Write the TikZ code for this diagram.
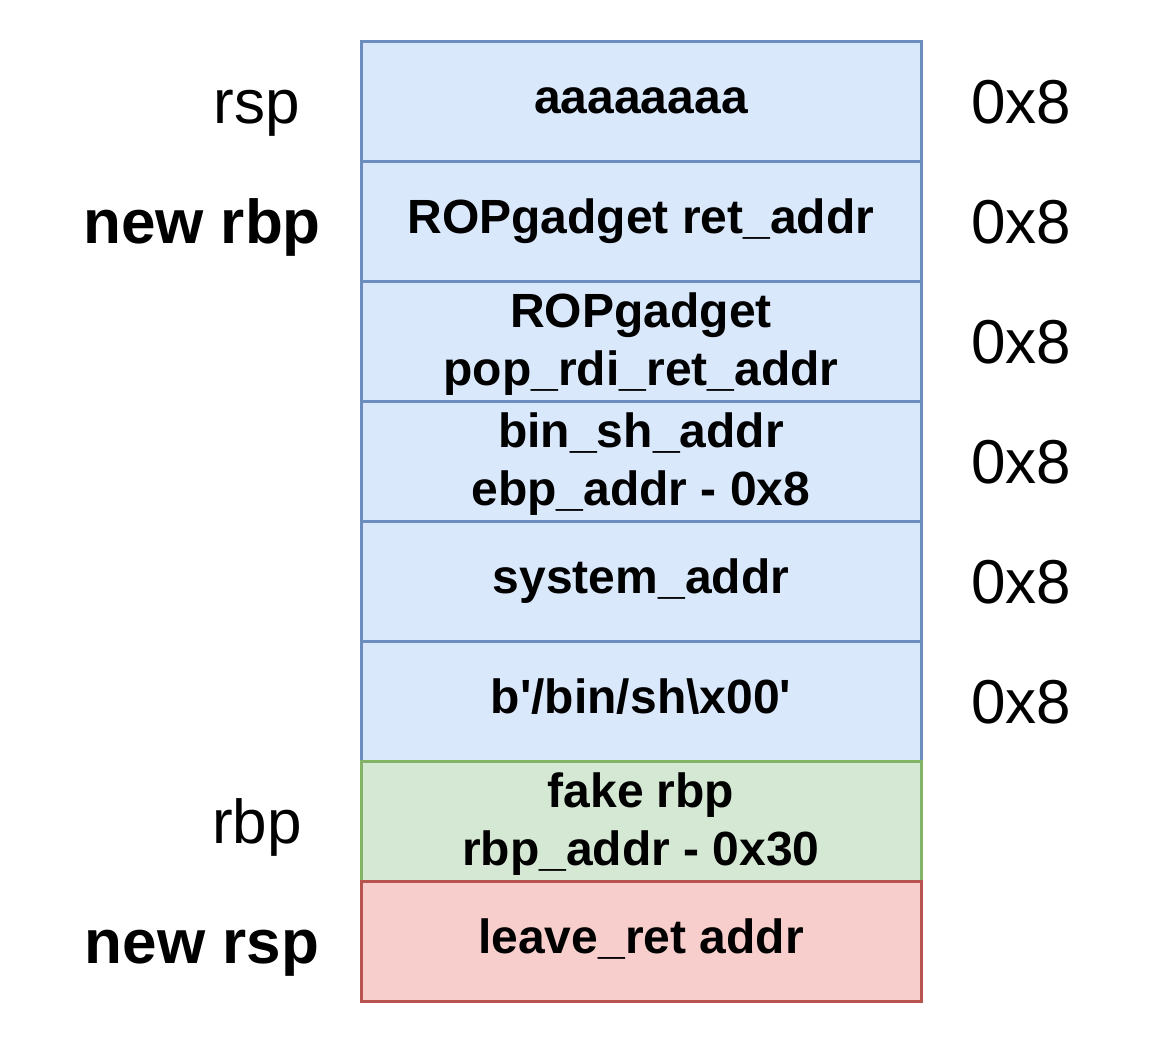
\documentclass[tikz,border=0pt]{standalone}
\usepackage{fontspec}
\setmainfont{Liberation Sans}[Ligatures=TeXOff]
\definecolor{bfill}{HTML}{DAE8FC}\definecolor{bline}{HTML}{6C8EBF}
\definecolor{gfill}{HTML}{D5E8D4}\definecolor{gline}{HTML}{82B366}
\definecolor{rfill}{HTML}{F8CECC}\definecolor{rline}{HTML}{B85450}
\begin{document}
\begin{tikzpicture}[x=1pt,y=-1pt,
  cell/.style={draw, line width=3pt, minimum width=560pt, minimum height=120pt, inner sep=0pt},
  bcell/.style={cell, fill=bfill, draw=bline},
  gcell/.style={cell, fill=gfill, draw=gline},
  rcell/.style={cell, fill=rfill, draw=rline},
  ctext/.style={anchor=base, inner sep=0pt, font=\fontsize{48}{58}\selectfont\bfseries},
  lab/.style={anchor=base, font=\fontsize{62}{74}\selectfont, inner sep=0pt},
  blab/.style={lab, font=\fontsize{62}{74}\selectfont\bfseries}]
\useasboundingbox (0,0) rectangle (1160,1044);
\node[bcell] (c1) at (641,101) {};
\node[bcell] (c2) at (641,221) {};
\node[bcell] (c3) at (641,341) {};
\node[bcell] (c4) at (641,461) {};
\node[bcell] (c5) at (641,581) {};
\node[bcell] (c6) at (641,701) {};
\node[gcell] (c7) at (641,821) {};
\node[rcell] (c8) at (641,941) {};
\node[ctext] (t1) at ([yshift=-12pt]c1.center) {aaaaaaaa};
\node[ctext] (t2) at ([yshift=-12pt]c2.center) {ROPgadget ret\_addr};
\node[ctext] (t3a) at ([yshift=13.5pt]c3.center) {ROPgadget};
\node[ctext] (t3b) at ([yshift=-44.5pt]c3.center) {pop\_rdi\_ret\_addr};
\node[ctext] (t4a) at ([yshift=13.5pt]c4.center) {bin\_sh\_addr};
\node[ctext] (t4b) at ([yshift=-44.5pt]c4.center) {ebp\_addr - 0x8};
\node[ctext] (t5) at ([yshift=-12pt]c5.center) {system\_addr};
\node[ctext] (t6) at ([yshift=-12pt]c6.center) {b'/bin/sh\textbackslash x00'};
\node[ctext] (t7a) at ([yshift=13.5pt]c7.center) {fake rbp};
\node[ctext] (t7b) at ([yshift=-44.5pt]c7.center) {rbp\_addr - 0x30};
\node[ctext] (t8) at ([yshift=-12pt]c8.center) {leave\_ret addr};
\node[lab] (l1) at (257,123) {rsp};
\node[blab] (l2) at (202,243) {new rbp};
\node[lab] (l7) at (257,843) {rbp};
\node[blab] (l8) at (202,963) {new rsp};
\foreach \i/\y in {1/123,2/243,3/363,4/483,5/603,6/723}
  \node[lab] (s\i) at (1021,\y) {0x8};
\end{tikzpicture}
\end{document}
